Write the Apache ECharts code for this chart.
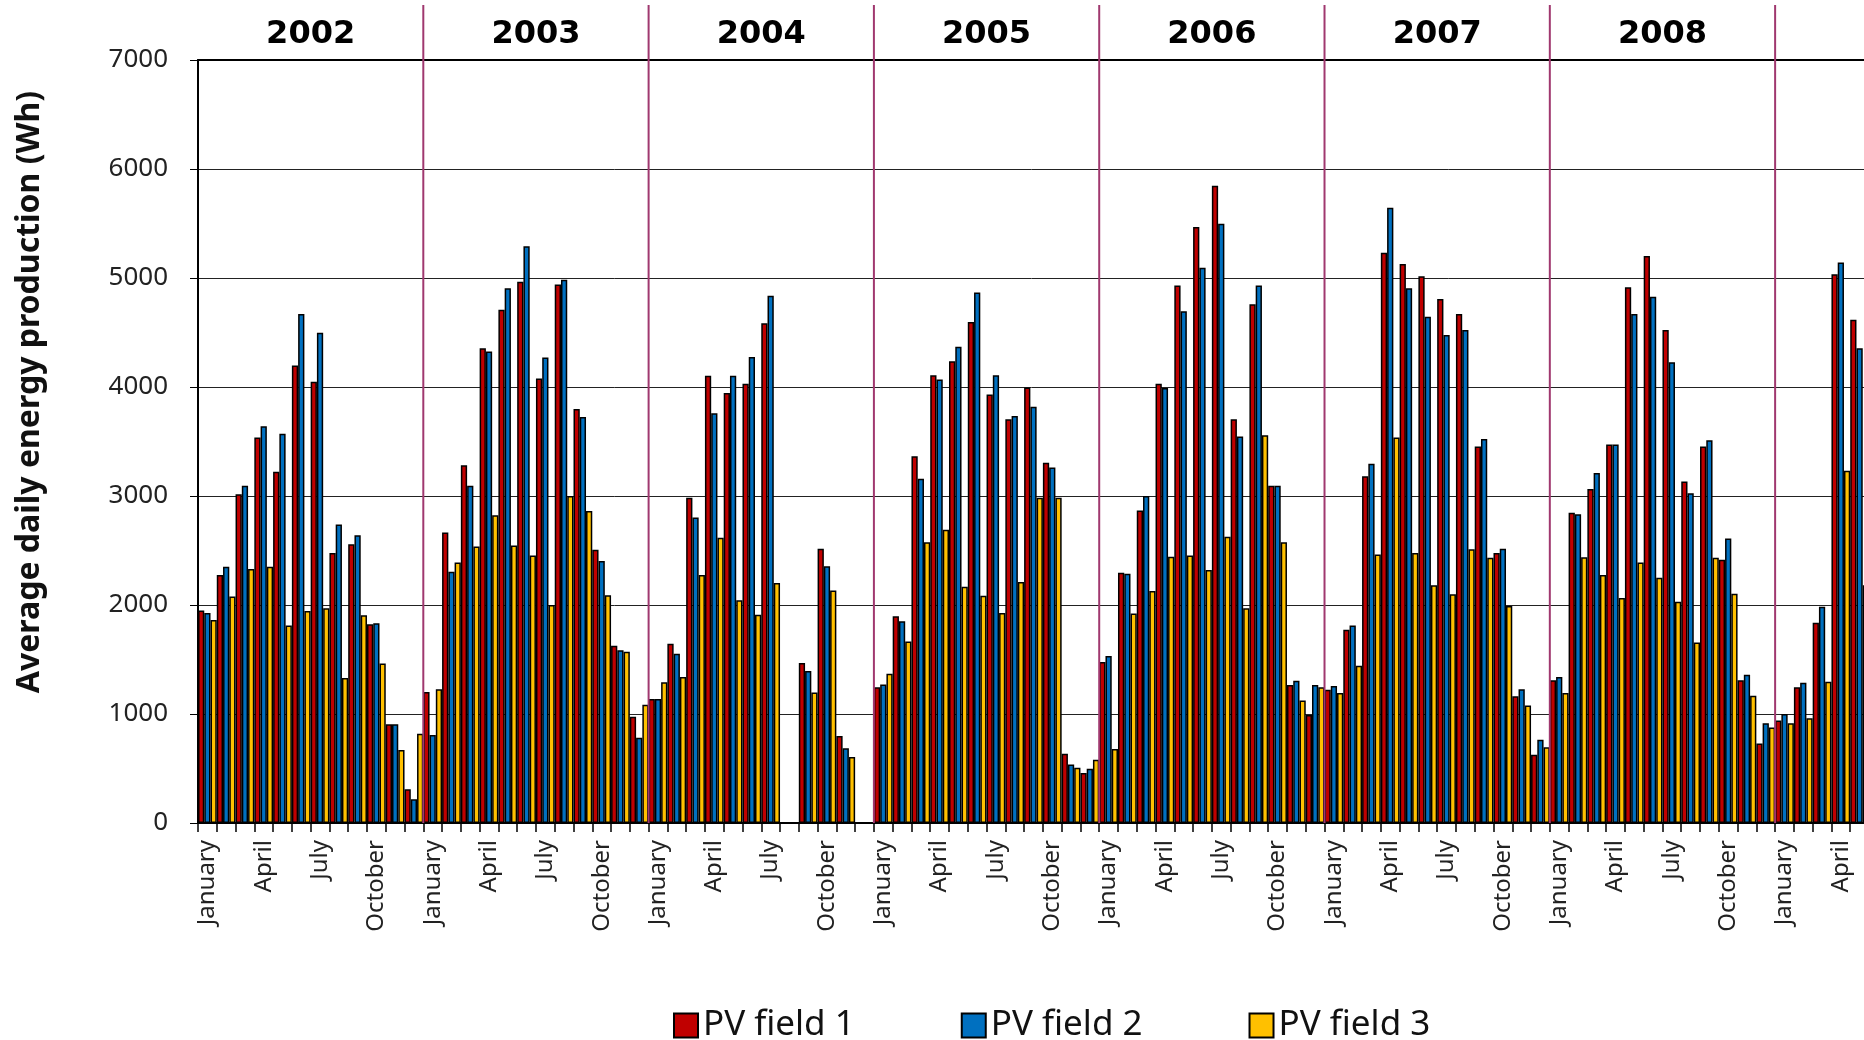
<!DOCTYPE html>
<html>
<head>
<meta charset="utf-8">
<script src="https://cdn.jsdelivr.net/npm/echarts@6/dist/echarts.min.js"></script>
<style>
  html, body { margin: 0; padding: 0; background: #fff; }
  #chart { width: 1864px; height: 1040px; }
</style>
</head>
<body>
<div id="chart"></div>
<script>
const years = [2002, 2003, 2004, 2005, 2006, 2007, 2008, 2009]
const monthNames = ['January', 'February', 'March', 'April', 'May', 'June', 'July',
  'August', 'September', 'October', 'November', 'December']

// Jan 2002 .. May 2009 (the picture is cut in May 2009)
const field1 = [
  1950, 2276, 3015, 3537, 3222, 4197, 4049, 2478, 2557, 1823, 906, 310,
  1202, 2665, 3281, 4355, 4709, 4966, 4079, 4941, 3798, 2507, 1626, 975,
  1138, 1645, 2985, 4103, 3946, 4030, 4586, null, 1468, 2517, 798, null,
  1246, 1897, 3365, 4108, 4236, 4596, 3931, 3704, 3995, 3305, 635, 458,
  1478, 2296, 2867, 4030, 4931, 5468, 5847, 3704, 4759, 3094, 1266, 990,
  1222, 1773, 3182, 5232, 5128, 5015, 4808, 4670, 3453, 2478, 1163, 626,
  1310, 2847, 3064, 3473, 4916, 5202, 4522, 3133, 3453, 2414, 1310, 729,
  941, 1246, 1837, 5034, 4616
]
const field2 = [
  1926, 2350, 3094, 3640, 3571, 4670, 4498, 2739, 2640, 1833, 906, 217,
  808, 2305, 3094, 4325, 4906, 5291, 4271, 4985, 3724, 2404, 1586, 783,
  1138, 1552, 2803, 3759, 4103, 4276, 4837, null, 1394, 2355, 685, null,
  1271, 1852, 3158, 4069, 4369, 4867, 4108, 3734, 3818, 3261, 537, 498,
  1532, 2286, 3000, 3990, 4695, 5094, 5498, 3547, 4931, 3094, 1305, 1266,
  1256, 1813, 3296, 5645, 4906, 4645, 4478, 4522, 3522, 2517, 1227, 764,
  1340, 2833, 3212, 3473, 4670, 4828, 4227, 3025, 3512, 2611, 1360, 916,
  1000, 1286, 1985, 5143, 4355
]
const field3 = [
  1862, 2079, 2330, 2350, 1813, 1946, 1970, 1330, 1906, 1463, 670, 818,
  1227, 2389, 2537, 2823, 2547, 2453, 2000, 3000, 2862, 2089, 1571, 1084,
  1291, 1340, 2276, 2616, 2044, 1911, 2202, null, 1197, 2133, 606, null,
  1369, 1665, 2576, 2690, 2167, 2084, 1926, 2212, 2985, 2985, 507, 581,
  680, 1921, 2128, 2443, 2453, 2320, 2626, 1970, 3557, 2576, 1123, 1246,
  1192, 1443, 2463, 3537, 2478, 2182, 2099, 2512, 2433, 1990, 1079, 695,
  1192, 2438, 2276, 2064, 2389, 2251, 2030, 1655, 2433, 2103, 1167, 877,
  916, 961, 1296, 3232, 2182
]
const yTicks = [0, 1000, 2000, 3000, 4000, 5000, 6000, 7000]

const categories = field1.map((_, i) => years[Math.floor(i / 12)] + '-' + monthNames[i % 12])

const chart = echarts.init(document.getElementById('chart'))

function barSeries(name, data, color) {
  return {
    name,
    type: 'bar',
    data,
    barGap: '0%',
    barCategoryGap: '0%',
    itemStyle: { color, borderColor: '#000', borderWidth: 1.5 },
  }
}

chart.setOption({
  animation: false,
  backgroundColor: '#fff',
  grid: { left: 198, top: 60, bottom: 217, right: -5, containLabel: false, outerBoundsMode: 'none' },
  legend: {
    left: 668,
    top: 1003,
    itemWidth: 24,
    itemHeight: 24,
    itemGap: 106,
    icon: 'rect',
    textStyle: { fontFamily: 'Noto Sans', fontSize: 35, color: '#111' },
    data: ['PV field 1', 'PV field 2', 'PV field 3'],
  },
  xAxis: [
    {
      type: 'category',
      data: categories,
      position: 'bottom',
      axisLine: { lineStyle: { color: '#000', width: 2 } },
      axisTick: { show: true, interval: 0, length: 9, lineStyle: { color: '#000', width: 1.5 } },
      axisLabel: {
        interval: (index) => index % 3 === 0,
        rotate: 90,
        margin: 17,
        fontFamily: 'Noto Sans',
        fontSize: 24,
        color: '#222',
        formatter: (value) => value.split('-')[1],
      },
      splitLine: { show: false },
    },
    {
      type: 'category',
      data: categories,
      position: 'top',
      axisLine: { lineStyle: { color: '#000', width: 2 } },
      axisTick: { show: false },
      axisLabel: { show: false },
    },
  ],
  yAxis: {
    type: 'value',
    min: 0,
    max: 7000,
    interval: 1000,
    axisLine: { show: true, lineStyle: { color: '#000', width: 2 } },
    axisTick: { show: true, length: 8, lineStyle: { color: '#000', width: 1 } },
    axisLabel: {
      margin: 30,
      fontFamily: 'Noto Sans',
      fontSize: 26,
      color: '#222',
      formatter: (v) => (yTicks.includes(v) ? String(v) : ''),
    },
    splitLine: { show: true, lineStyle: { color: '#222', width: 1 } },
  },
  series: [
    barSeries('PV field 1', field1, '#C00000'),
    barSeries('PV field 2', field2, '#0070C0'),
    barSeries('PV field 3', field3, '#FFC000'),
  ],
})

// year separators and year names, placed through the category scale
function drawYears() {
  const c0 = chart.convertToPixel({ xAxisIndex: 0 }, categories[0])
  const c1 = chart.convertToPixel({ xAxisIndex: 0 }, categories[1])
  const half = (c1 - c0) / 2
  const bottom = chart.convertToPixel({ yAxisIndex: 0 }, 0)
  const elements = []
  years.forEach((year, k) => {
    const startIdx = k * 12
    if (startIdx >= categories.length) return
    const left = chart.convertToPixel({ xAxisIndex: 0 }, categories[startIdx]) - half
    if (k > 0) {
      elements.push({
        type: 'line',
        shape: { x1: left, y1: 5, x2: left, y2: bottom },
        style: { stroke: '#a0386f', lineWidth: 2 },
        z: 10,
      })
    }
    const endIdx = startIdx + 11
    if (endIdx < categories.length) {
      const right = chart.convertToPixel({ xAxisIndex: 0 }, categories[endIdx]) + half
      elements.push({
        type: 'text',
        x: (left + right) / 2,
        y: 35,
        style: {
          text: String(year),
          font: 'bold 32px "DejaVu Sans"',
          fill: '#000',
          align: 'center',
          verticalAlign: 'middle',
          textAlign: 'center',
          textVerticalAlign: 'middle',
        },
        z: 10,
      })
    }
  })
  elements.push({
    type: 'text',
    x: 30,
    y: 392,
    rotation: Math.PI / 2,
    style: {
      text: 'Average daily energy production (Wh)',
      font: 'bold 32px "Noto Sans"',
      fill: '#111',
      align: 'center',
      verticalAlign: 'middle',
      textAlign: 'center',
      textVerticalAlign: 'middle',
    },
  })
  chart.setOption({ graphic: elements })
}

drawYears()
</script>
</body>
</html>
